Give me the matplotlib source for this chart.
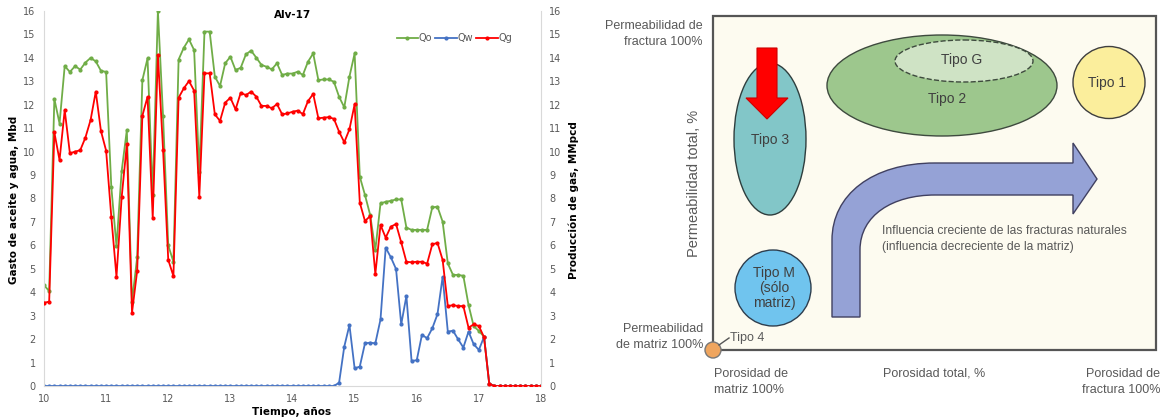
import numpy as np
import matplotlib
matplotlib.use("Agg")
import matplotlib.pyplot as plt
from matplotlib.patches import Ellipse, Circle, Rectangle, Polygon, PathPatch
from matplotlib.path import Path

# Datos mensuales, pozo Alv-17 (10 a 18 años)
qo = [4.3, 4.05, 12.25, 11.2, 13.65, 13.4, 13.65, 13.5, 13.8, 14.0, 13.85, 13.45,
      13.4, 8.5, 5.97, 9.17, 10.92, 3.6, 5.5, 13.05, 13.98, 8.15, 16.0, 11.5,
      6.0, 5.3, 13.93, 14.43, 14.79, 14.33, 9.14, 15.12, 15.12, 13.2, 12.8, 13.77,
      14.05, 13.48, 13.58, 14.15, 14.31, 14.01, 13.7, 13.62, 13.51, 13.77, 13.27, 13.33,
      13.33, 13.41, 13.27, 13.84, 14.19, 13.05, 13.08, 13.08, 12.98, 12.34, 11.89, 13.2,
      14.19, 8.93, 8.15, 7.3, 5.8, 7.79, 7.86, 7.9, 7.96, 7.96, 6.76, 6.66,
      6.66, 6.66, 6.66, 7.62, 7.65, 7.01, 5.23, 4.74, 4.74, 4.7, 3.46, 2.55,
      2.35, 2.1, 0.1, 0, 0, 0, 0, 0, 0, 0, 0, 0, 0]
qg = [3.55, 3.6, 10.82, 9.64, 11.77, 9.93, 10.0, 10.06, 10.6, 11.35, 12.56, 10.88,
      10.04, 7.22, 4.66, 8.05, 10.31, 3.13, 4.92, 11.53, 12.34, 7.18, 14.12, 10.07,
      5.38, 4.69, 12.3, 12.7, 13.01, 12.6, 8.08, 13.34, 13.34, 11.59, 11.31, 12.09,
      12.3, 11.8, 12.51, 12.41, 12.56, 12.35, 11.95, 11.95, 11.85, 12.03, 11.59, 11.63,
      11.7, 11.75, 11.6, 12.16, 12.46, 11.42, 11.45, 11.47, 11.4, 10.85, 10.4, 10.95,
      12.02, 7.82, 7.04, 7.25, 4.78, 6.87, 6.33, 6.8, 6.91, 6.13, 5.3, 5.28,
      5.3, 5.3, 5.22, 6.04, 6.11, 5.38, 3.41, 3.45, 3.41, 3.41, 2.49, 2.63,
      2.56, 2.08, 0.1, 0, 0, 0, 0, 0, 0, 0, 0, 0, 0]
qw = [0] * 57 + [0.14, 1.68, 2.6,
      0.75, 0.83, 1.82, 1.85, 1.82, 2.84, 5.9, 5.49, 4.99, 2.63, 3.84, 1.07,
      1.1, 2.18, 2.04, 2.46, 3.06, 4.66, 2.32, 2.36, 1.99, 1.64, 2.32, 1.78,
      1.54, 2.1, 0.1, 0, 0, 0, 0, 0, 0, 0, 0, 0, 0]
anios = 10 + np.arange(len(qo)) / 12

ticks_x = [10, 11, 12, 13, 14, 15, 16, 17, 18]
ticks_y = list(range(0, 17))

VERDE = '#70AD47'
AZUL = '#4472C4'
ROJO = '#FF0000'
GRIS = '#595959'

fig = plt.figure(figsize=(11.64, 4.2), dpi=100)

#########################################################################
############################ GRAFICA Alv-17 #############################
#########################################################################
ax = fig.add_axes([44/1164, 34/420, 497/1164, 375/420])
axr = ax.twinx()

l1, = ax.plot(anios, qo, color=VERDE, lw=1.3, marker='o', ms=2, label='Qo')
l2, = ax.plot(anios, qw, color=AZUL, lw=1.3, marker='o', ms=2, label='Qw')
l3, = axr.plot(anios, qg, color=ROJO, lw=1.3, marker='o', ms=2, label='Qg')

for a in (ax, axr):
    a.set_xlim(10, 18)
    a.set_ylim(0, 16)
    a.set_yticks(ticks_y)
    a.tick_params(length=0, labelsize=7, colors=GRIS, pad=6)
    for s in a.spines.values():
        s.set_visible(False)
ax.set_xticks(ticks_x)
ax.spines['left'].set_visible(True)
ax.spines['left'].set_color('#D9D9D9')
axr.spines['right'].set_visible(True)
axr.spines['right'].set_color('#D9D9D9')
ax.spines['bottom'].set_visible(True)
ax.spines['bottom'].set_color('#D9D9D9')

ax.text(0.5, 0.99, 'Alv-17', transform=ax.transAxes, fontsize=7.5,
        fontweight='bold', ha='center', va='center')
ax.legend(handles=[l1, l2, l3], loc='center right', bbox_to_anchor=(0.96, 0.928),
          ncol=3, frameon=False, fontsize=7, handlelength=2.2,
          columnspacing=0.3, handletextpad=0.1, labelcolor=GRIS)

fig.text(14/1164, 1 - 200/420, 'Gasto de aceite y agua, Mbd', rotation=90,
         ha='center', va='center', fontsize=7.5, fontweight='bold')
fig.text(574/1164, 1 - 200/420, 'Producción de gas, MMpcd', rotation=90,
         ha='center', va='center', fontsize=7.5, fontweight='bold')
fig.text(292/1164, 1 - 412/420, 'Tiempo, años', ha='center', va='center',
         fontsize=7.5, fontweight='bold')

#########################################################################
############################ DIAGRAMA TIPOS #############################
#########################################################################
fam = ['Liberation Sans', 'DejaVu Sans']
axd = fig.add_axes([0, 0, 1, 1])
axd.set_xlim(0, 1164)
axd.set_ylim(420, 0)
axd.axis('off')

axd.add_patch(Rectangle((713, 16), 443, 334, fc='#FDFBF0', ec='#555555', lw=1.6, zorder=1))

# Tipo 2 y Tipo G
axd.add_patch(Ellipse((942, 85.5), 230, 101, fc='#9DC78D', ec='#3E4A3E', lw=1, zorder=2))
axd.add_patch(Ellipse((964, 61), 138, 42, fc='#CFE3C5', ec='#3E4A3E', lw=1, ls='--', zorder=3))
# Tipo 1
axd.add_patch(Circle((1109, 82.5), 36, fc='#FBEE9C', ec='#3E3E3E', lw=1, zorder=2))
# Tipo 3
axd.add_patch(Ellipse((770, 139), 72, 152, fc='#82C6C8', ec='#2E3E3E', lw=1, zorder=2))
# Tipo M
axd.add_patch(Circle((773, 288), 38, fc='#70C4EE', ec='#2E3E4E', lw=1, zorder=2))
# Tipo 4
axd.add_patch(Circle((713, 350), 8, fc='#EFA55E', ec='#777777', lw=1, zorder=4))
axd.plot([719, 729], [345, 338], color='#555555', lw=1, zorder=4)

# flecha roja
axd.add_patch(Polygon([(757, 48), (777, 48), (777, 98), (788, 98), (767, 119),
                       (746, 98), (757, 98)], closed=True, fc='#FF0000',
                      ec='#CC0000', lw=0.8, zorder=5))

# flecha curva azul
verts = [(832, 317), (832, 240), (832, 195), (872, 163), (935, 163),
         (1073, 163), (1073, 143), (1097, 179), (1073, 214), (1073, 195),
         (935, 195), (893, 195), (860, 215), (860, 250), (860, 317), (832, 317)]
codes = [Path.MOVETO, Path.LINETO, Path.CURVE4, Path.CURVE4, Path.CURVE4,
         Path.LINETO, Path.LINETO, Path.LINETO, Path.LINETO, Path.LINETO,
         Path.LINETO, Path.CURVE4, Path.CURVE4, Path.CURVE4, Path.LINETO, Path.CLOSEPOLY]
axd.add_patch(PathPatch(Path(verts, codes), fc='#95A2D6', ec='#404060', lw=1, zorder=2))

TXT = '#404040'
axd.text(770, 140, 'Tipo 3', family=fam, fontsize=10, color=TXT, ha='center', va='center', zorder=6)
axd.text(947, 99, 'Tipo 2', family=fam, fontsize=10, color=TXT, ha='center', va='center', zorder=6)
axd.text(962, 60, 'Tipo G', family=fam, fontsize=10, color=TXT, ha='center', va='center', zorder=6)
axd.text(1107, 83, 'Tipo 1', family=fam, fontsize=10, color=TXT, ha='center', va='center', zorder=6)
axd.text(774, 288, 'Tipo M\n(sólo\nmatriz)', family=fam, fontsize=10, color=TXT,
         ha='center', va='center', linespacing=1.05, zorder=6)
axd.text(730, 338, 'Tipo 4', family=fam, fontsize=9, color=GRIS, ha='left', va='center', zorder=6)

axd.text(882, 239, 'Influencia creciente de las fracturas naturales\n(influencia decreciente de la matriz)',
         family=fam, fontsize=8.7, color=GRIS, ha='left', va='center', linespacing=1.55, zorder=6)

axd.text(703, 34, 'Permeabilidad de\nfractura 100%', family=fam, fontsize=9, color=GRIS,
         ha='right', va='center', linespacing=1.5)
axd.text(694, 183, 'Permeabilidad total, %', family=fam, fontsize=10.5, color=GRIS,
         ha='center', va='center', rotation=90)
axd.text(703, 337, 'Permeabilidad\nde matriz 100%', family=fam, fontsize=9, color=GRIS,
         ha='right', va='center', linespacing=1.5)
axd.text(714, 382, 'Porosidad de\nmatriz 100%', family=fam, fontsize=9, color=GRIS,
         ha='left', va='center', linespacing=1.5)
axd.text(883, 373, 'Porosidad total, %', family=fam, fontsize=9, color=GRIS,
         ha='left', va='center')
axd.text(1160, 382, 'Porosidad de\nfractura 100%', family=fam, fontsize=9, color=GRIS,
         ha='right', va='center', linespacing=1.5)

plt.savefig('out.png', dpi=100)
